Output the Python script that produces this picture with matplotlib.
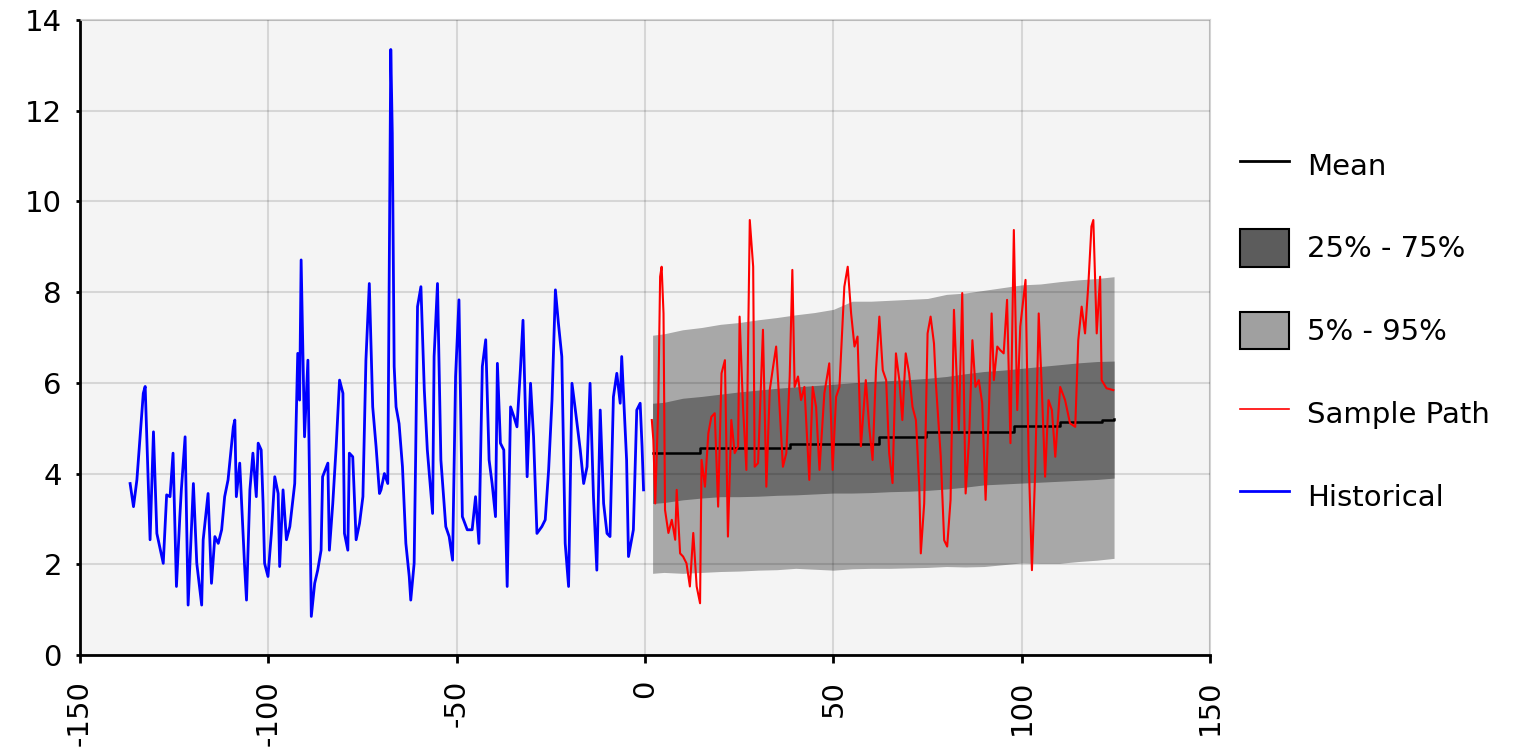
import matplotlib.pyplot as plt
from matplotlib.lines import Line2D
from matplotlib.patches import Patch

plt.rcParams['font.family'] = 'DejaVu Sans'
plt.rcParams['axes.unicode_minus'] = False

# historical series
hist_x = [-136.7, -135.8, -134.9, -133.2, -132.7, -131.4, -130.5, -129.6, -127.9, -127.0,
          -126.1, -125.3, -124.4, -123.5, -123.1, -122.1, -121.3, -119.9, -119.0, -117.7,
          -117.3, -116.0, -115.1, -114.2, -113.3, -112.4, -111.6, -110.7, -109.3, -108.9,
          -108.5, -107.6, -106.3, -105.8, -104.9, -104.1, -103.2, -102.7, -101.9, -101.4,
          -101.0, -100.1, -99.2, -98.3, -97.4, -97.0, -96.1, -95.2, -94.3, -93.0,
          -92.2, -91.7, -91.3, -90.4, -89.5, -88.6, -87.7, -86.9, -86.0, -85.6,
          -84.2, -83.8, -82.9, -82.0, -81.1, -80.2, -79.8, -78.9, -78.5, -77.6,
          -76.7, -75.8, -74.9, -74.1, -73.2, -72.3, -71.4, -70.5, -70.1, -69.2,
          -68.3, -67.5, -67.1, -66.6, -66.1, -65.3, -64.4, -63.5, -62.6, -62.2,
          -61.3, -60.9, -60.4, -59.5, -58.6, -57.8, -56.4, -56.0, -55.1, -54.2,
          -52.9, -52.0, -51.1, -50.3, -49.4, -48.5, -47.2, -45.9, -45.0, -44.1,
          -43.2, -42.3, -41.4, -40.6, -39.7, -39.2, -38.4, -37.5, -36.6, -35.7,
          -34.8, -34.0, -33.1, -32.4, -31.3, -30.4, -29.6, -28.7, -27.4, -26.5,
          -25.6, -24.7, -23.8, -23.0, -22.1, -21.2, -20.3, -19.4, -18.5, -17.2,
          -16.3, -15.4, -14.6, -13.7, -12.8, -11.9, -11.0, -10.1, -9.3, -8.4,
          -7.5, -6.6, -6.2, -4.9, -4.4, -3.1, -2.2, -1.3, -0.8, -0.4]
hist_y = [3.78, 3.27, 3.86, 5.77, 5.92, 2.54, 4.92, 2.68, 2.02, 3.53,
          3.49, 4.45, 1.51, 3.05, 3.64, 4.81, 1.10, 3.78, 2.02, 1.10,
          2.54, 3.56, 1.58, 2.61, 2.46, 2.76, 3.49, 3.86, 5.03, 5.18,
          3.49, 4.23, 1.95, 1.21, 3.64, 4.45, 3.49, 4.67, 4.52, 3.34,
          2.02, 1.73, 2.68, 3.93, 3.56, 1.95, 3.64, 2.54, 2.83, 3.78,
          6.65, 5.62, 8.71, 4.81, 6.50, 0.85, 1.58, 1.87, 2.31, 3.93,
          4.23, 2.31, 3.34, 4.59, 6.06, 5.77, 2.68, 2.31, 4.45, 4.37,
          2.54, 2.90, 3.49, 6.50, 8.19, 5.47, 4.59, 3.56, 3.64, 4.00,
          3.78, 13.35, 11.50, 6.36, 5.47, 5.10, 4.15, 2.46, 1.73, 1.21,
          2.02, 4.37, 7.68, 8.12, 5.84, 4.52, 3.12, 6.58, 8.19, 4.30,
          2.83, 2.61, 2.09, 6.14, 7.83, 3.05, 2.76, 2.76, 3.49, 2.46,
          6.36, 6.95, 4.30, 3.78, 3.05, 6.43, 4.67, 4.52, 1.51, 5.47,
          5.25, 5.03, 6.28, 7.38, 3.93, 5.99, 4.81, 2.68, 2.83, 2.98,
          4.08, 5.62, 8.05, 7.31, 6.58, 2.46, 1.51, 5.99, 5.40, 4.52,
          3.78, 4.15, 5.99, 3.49, 1.87, 5.40, 3.34, 2.68, 2.61, 5.69,
          6.21, 5.55, 6.58, 4.30, 2.17, 2.76, 5.40, 5.55, 4.60, 3.64]

# sample path
path_x = [1.8, 2.2, 2.7, 3.5, 4.0, 4.4, 4.9, 5.3, 6.2, 7.1,
          8.0, 8.4, 9.3, 10.1, 11.0, 11.9, 12.8, 13.7, 14.6, 15.0,
          15.9, 16.8, 17.6, 18.5, 19.4, 20.3, 21.2, 22.0, 22.9, 23.8,
          24.7, 25.1, 26.0, 26.9, 27.8, 28.7, 29.1, 30.0, 31.3, 32.2,
          33.1, 34.0, 34.8, 35.7, 36.6, 37.5, 38.4, 39.1, 39.7, 40.6,
          41.4, 42.3, 43.6, 44.5, 45.4, 46.3, 47.6, 48.9, 49.8, 50.7,
          51.6, 52.9, 53.8, 54.7, 55.6, 56.4, 57.3, 58.6, 59.5, 60.4,
          61.3, 62.2, 63.1, 64.0, 64.8, 65.7, 66.6, 67.5, 68.3, 69.2,
          70.1, 71.0, 71.9, 72.8, 73.2, 74.1, 75.0, 75.8, 76.7, 77.2,
          78.5, 79.4, 80.2, 81.1, 82.0, 83.3, 84.2, 85.1, 86.0, 86.9,
          87.7, 88.6, 89.5, 90.4, 91.3, 92.0, 92.6, 93.5, 94.3, 95.2,
          96.1, 97.0, 97.9, 98.8, 99.6, 101.0, 101.8, 102.7, 103.6, 104.5,
          105.3, 106.2, 107.1, 108.0, 108.9, 110.2, 111.5, 112.8, 114.2, 115.0,
          115.9, 116.8, 117.7, 118.5, 119.0, 119.9, 120.8, 121.2, 122.5, 124.3]
path_y = [5.18, 4.74, 3.34, 5.47, 8.34, 8.56, 7.53, 3.20, 2.69, 2.98,
          2.54, 3.64, 2.24, 2.17, 2.02, 1.51, 2.69, 1.51, 1.14, 4.30,
          3.71, 4.89, 5.25, 5.33, 3.27, 6.21, 6.50, 2.61, 5.18, 4.45,
          4.60, 7.46, 5.47, 4.08, 9.59, 8.56, 4.15, 4.23, 7.17, 3.71,
          5.84, 6.36, 6.80, 5.47, 4.15, 4.45, 6.14, 8.49, 5.91, 6.14,
          5.62, 5.91, 3.86, 5.91, 5.47, 4.08, 5.77, 6.43, 4.08, 5.69,
          5.91, 8.12, 8.56, 7.53, 6.80, 7.02, 4.60, 6.06, 5.03, 4.30,
          6.28, 7.46, 6.28, 6.06, 4.45, 3.79, 6.65, 6.06, 5.18, 6.65,
          6.21, 5.47, 5.18, 3.71, 2.24, 3.34, 7.09, 7.46, 6.87, 5.99,
          4.37, 2.53, 2.39, 3.42, 7.61, 4.96, 7.98, 3.56, 4.74, 6.94,
          5.91, 6.06, 5.55, 3.42, 5.47, 7.53, 6.06, 6.80, 6.72, 6.65,
          7.83, 4.67, 9.37, 5.40, 7.24, 8.27, 4.45, 1.87, 4.15, 7.53,
          5.91, 3.93, 5.62, 5.40, 4.37, 5.91, 5.62, 5.11, 5.03, 6.94,
          7.68, 7.09, 8.20, 9.45, 9.59, 7.09, 8.34, 6.06, 5.88, 5.84]

# percentile bands and mean
band_x = [2, 5, 10, 15, 20, 25, 30, 35, 40, 45, 50, 55, 60,
          65, 70, 75, 80, 85, 90, 95, 100, 105, 110, 115, 120, 124.5]
p95 = [7.05, 7.08, 7.17, 7.22, 7.29, 7.33, 7.39, 7.44, 7.50, 7.55, 7.62, 7.80, 7.80,
       7.82, 7.84, 7.86, 7.95, 7.98, 8.04, 8.10, 8.16, 8.18, 8.23, 8.27, 8.30, 8.34]
p75 = [5.55, 5.57, 5.66, 5.70, 5.75, 5.80, 5.84, 5.88, 5.91, 5.94, 5.97, 6.00, 6.03,
       6.05, 6.07, 6.10, 6.14, 6.20, 6.25, 6.28, 6.32, 6.36, 6.40, 6.44, 6.47, 6.48]
p25 = [3.34, 3.36, 3.42, 3.46, 3.49, 3.49, 3.50, 3.52, 3.53, 3.55, 3.57, 3.57, 3.58,
       3.60, 3.61, 3.63, 3.66, 3.70, 3.75, 3.77, 3.79, 3.81, 3.83, 3.85, 3.87, 3.90]
p5 = [1.80, 1.82, 1.80, 1.82, 1.84, 1.85, 1.87, 1.88, 1.91, 1.89, 1.87, 1.90, 1.91,
      1.91, 1.92, 1.93, 1.95, 1.94, 1.95, 1.99, 2.03, 2.02, 2.02, 2.06, 2.09, 2.13]

mean_x = [2, 14.6, 38.4, 62.2, 74.5, 97.9, 110.2, 121.2, 124.5]
mean_y = [4.45, 4.56, 4.66, 4.80, 4.92, 5.05, 5.13, 5.19, 5.20]

fig = plt.figure(figsize=(15.21, 7.55), dpi=100)
ax = fig.add_axes([0.0526, 0.1325, 0.7430, 0.841])
ax.set_facecolor('#f4f4f4')

ax.fill_between(band_x, p5, p95, color='#a8a8a8', lw=0, zorder=1)
ax.fill_between(band_x, p25, p75, color='#6c6c6c', lw=0, zorder=1.1)
ax.plot(mean_x, mean_y, color='black', lw=1.8, drawstyle='steps-post', zorder=3)
ax.plot(path_x, path_y, color='#ff0000', lw=1.5, zorder=3)
ax.plot(hist_x, hist_y, color='#0000ff', lw=2.0, zorder=3)

ax.set_xlim(-150, 150)
ax.set_ylim(0, 14)
ax.set_xticks(range(-150, 151, 50))
ax.set_yticks(range(0, 15, 2))
ax.set_axisbelow(False)
ax.grid(True, color='black', alpha=0.12, lw=1.5)

for s in ['top', 'right']:
    ax.spines[s].set_color('#d4d4d4')
    ax.spines[s].set_linewidth(1.5)
for s in ['left', 'bottom']:
    ax.spines[s].set_color('black')
    ax.spines[s].set_linewidth(2)

ax.tick_params(axis='x', direction='out', length=6, width=2, pad=12,
               labelsize=21, labelrotation=90)
ax.tick_params(axis='y', direction='out', length=3, width=2, pad=10, labelsize=21)

handles = [
    Line2D([], [], color='black', lw=2),
    Patch(facecolor='#5c5c5c', edgecolor='black', lw=1.5),
    Patch(facecolor='#a0a0a0', edgecolor='black', lw=1.5),
    Line2D([], [], color='#ff0000', lw=1.2),
    Line2D([], [], color='#0000ff', lw=2),
]
labels = ['Mean', '25% - 75%', '5% - 95%', 'Sample Path', 'Historical']
fig.legend(handles, labels, loc='upper left', bbox_to_anchor=(0.815, 0.806),
           frameon=False, fontsize=21, handlelength=1.7, handleheight=1.6,
           handletextpad=0.6, labelspacing=1.55, borderpad=0, borderaxespad=0)

fig.savefig('out.png', dpi=100)
